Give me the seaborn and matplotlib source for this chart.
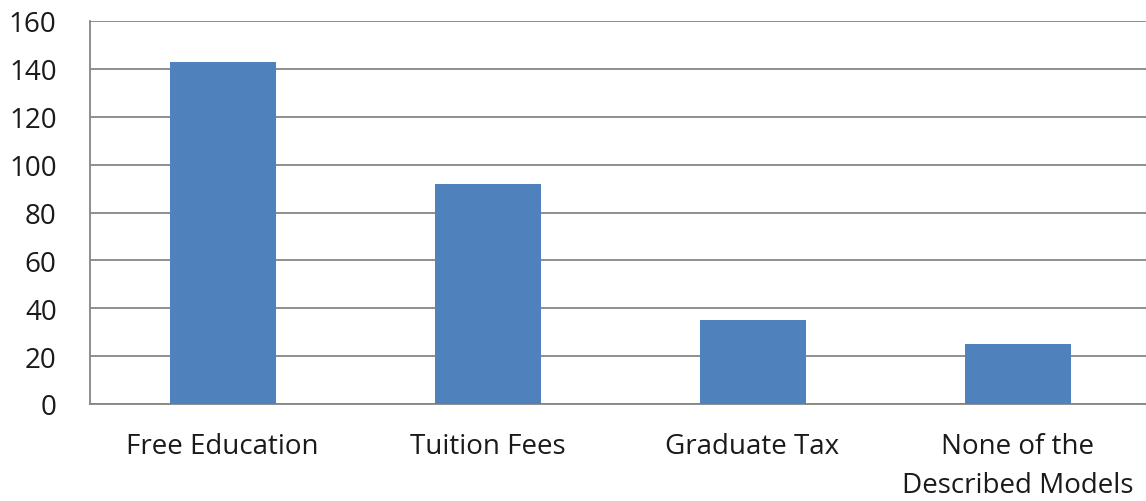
import matplotlib
matplotlib.use("Agg")
import matplotlib.pyplot as plt
import seaborn as sns
import pandas as pd

categories = ["Free Education", "Tuition Fees", "Graduate Tax", "None of the\nDescribed Models"]
counts = [143, 92, 35, 25]
y_ticks = [0, 20, 40, 60, 80, 100, 120, 140, 160]

df = pd.DataFrame({"model": categories, "count": counts})

sns.set_style("white")
plt.rcParams["font.family"] = ["Open Sans", "DejaVu Sans"]

fig = plt.figure(figsize=(11.46, 5.02), dpi=100)
ax = fig.add_axes([90 / 1146, 97 / 502, 1060 / 1146, 383 / 502])

grid_col = "#868686"
sns.barplot(data=df, x="model", y="count", color="#4F81BD", width=0.4,
            saturation=1, linewidth=0, ax=ax, zorder=3)

ax.set_ylim(0, 160)
ax.set_xlim(-0.5, 3.5)
ax.set_yticks(y_ticks)
ax.yaxis.grid(True, color=grid_col, linewidth=1.3, zorder=0)
ax.set_axisbelow(True)

for s in ["top", "right"]:
    ax.spines[s].set_visible(False)
for s in ["left", "bottom"]:
    ax.spines[s].set_color(grid_col)
    ax.spines[s].set_linewidth(1.3)

ax.set_xlabel("")
ax.set_ylabel("")
ax.tick_params(axis="y", length=12, color=grid_col, width=1.3, labelsize=20, pad=12, labelcolor="#1a1a1a")
ax.tick_params(axis="x", which="major", length=0, labelsize=20, pad=20, labelcolor="#1a1a1a")
for lbl in ax.get_xticklabels():
    lbl.set_linespacing(1.55)
ax.set_xticks([-0.5, 0.5, 1.5, 2.5, 3.5], minor=True)
ax.tick_params(axis="x", which="minor", length=10, color=grid_col, width=1.3)

fig.savefig("out.png", dpi=100)
